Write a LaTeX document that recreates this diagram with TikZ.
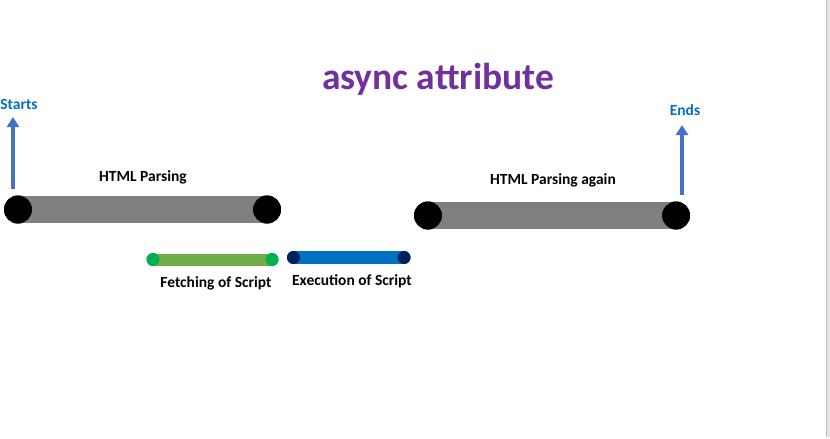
\documentclass[tikz,border=0pt]{standalone}
\usepackage{fontspec}
\setmainfont{Carlito}
\usetikzlibrary{arrows.meta}
\definecolor{titlepurple}{HTML}{7030A0}
\definecolor{arrowblue}{HTML}{4472C4}
\definecolor{labelblue}{HTML}{0070C0}
\definecolor{bargray}{HTML}{7F7F7F}
\definecolor{fetchgreen}{HTML}{70AD47}
\definecolor{dotgreen}{HTML}{00B050}
\definecolor{execblue}{HTML}{0070C0}
\definecolor{dotnavy}{HTML}{002060}
\tikzset{
  bigdot/.style={circle,fill=black,inner sep=0pt,minimum size=28pt},
  gdot/.style={circle,fill=dotgreen,inner sep=0pt,minimum size=13pt},
  ndot/.style={circle,fill=dotnavy,inner sep=0pt,minimum size=13pt},
  lbl/.style={font=\bfseries\fontsize{15.5}{18}\selectfont,text=black,inner sep=0pt},
  endlbl/.style={font=\bfseries\fontsize{15.5}{18}\selectfont,text=labelblue,inner sep=0pt},
  uparrow/.style={draw=arrowblue,line width=3.5pt,-{Triangle[length=10pt,width=12pt]}},
}
\begin{document}
\begin{tikzpicture}[x=1pt,y=-1pt]
\fill[white] (0,0) rectangle (830,439);
\useasboundingbox (0,0) rectangle (830,439);
\fill[black!10] (827,0) rectangle (830,437);
\draw[black!25,line width=1pt] (826.5,0) -- (826.5,437);
% title
\node[font=\bfseries\fontsize{37.5}{42}\selectfont,text=titlepurple,inner sep=0pt] (title) at (438,79) {async attribute};
% bar 1
\node[bigdot] (a1) at (18,209.5) {};
\node[bigdot] (a2) at (267,209.5) {};
\draw[bargray,line width=27pt] (a1.center) -- (a2.center);
\node[bigdot] at (a1) {};
\node[bigdot] at (a2) {};
\node[lbl] (t1) at (143,177) {HTML Parsing};
% bar 2
\node[bigdot] (b1) at (428,215.5) {};
\node[bigdot] (b2) at (676,215.5) {};
\draw[bargray,line width=27pt] (b1.center) -- (b2.center);
\node[bigdot] at (b1) {};
\node[bigdot] at (b2) {};
\node[lbl] (t2) at (553,180) {HTML Parsing again};
% fetch
\node[gdot] (f1) at (153,259.5) {};
\node[gdot] (f2) at (272,259.5) {};
\draw[fetchgreen,line width=12pt] (f1.center) -- (f2.center);
\node[gdot] at (f1) {};
\node[gdot] at (f2) {};
\node[lbl] (t3) at (216,283) {Fetching of Script};
% exec
\node[ndot] (e1) at (293.5,257.5) {};
\node[ndot] (e2) at (404,257.5) {};
\draw[execblue,line width=13pt] (e1.center) -- (e2.center);
\node[ndot] at (e1) {};
\node[ndot] at (e2) {};
\node[lbl] (t4) at (352,281) {Execution of Script};
% arrows
\coordinate (s0) at (13,189);
\coordinate (s1) at (13,117);
\draw[uparrow] (s0) -- (s1);
\node[endlbl] (starts) at (19,104) {Starts};
\coordinate (n0) at (682,195);
\coordinate (n1) at (682,125);
\draw[uparrow] (n0) -- (n1);
\node[endlbl] (ends) at (685,110) {Ends};
\end{tikzpicture}
\end{document}
